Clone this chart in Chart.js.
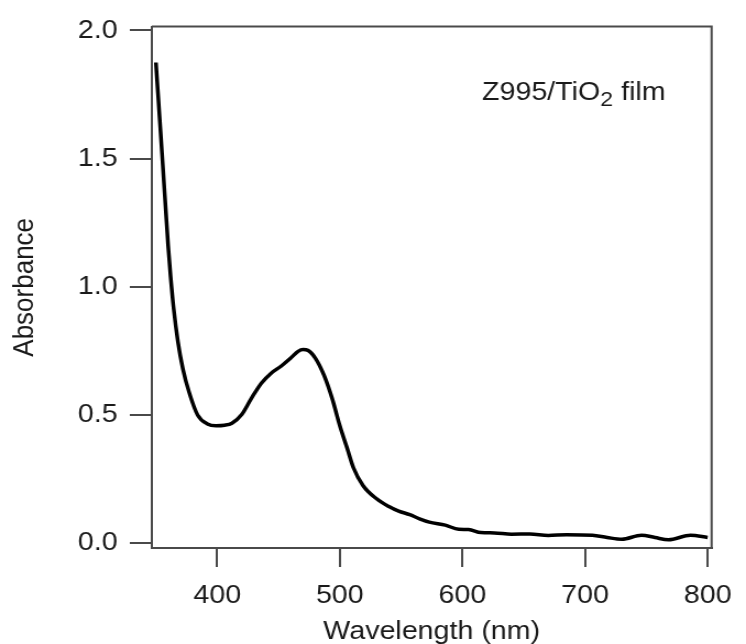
<!DOCTYPE html>
<html>
<head>
<meta charset="utf-8">
<script src="https://cdn.jsdelivr.net/npm/chart.js@4.4.1/dist/chart.umd.min.js"></script>
<style>
  html, body { margin: 0; padding: 0; background: #fff; overflow: hidden; }
  /* the reference is a bit wider than tall in its text, so the canvas is stretched sideways */
  #wrap { width: 678px; height: 644px; transform: scaleX(1.1003); transform-origin: 0 0; }
</style>
</head>
<body>
<div id="wrap"><canvas id="myChart"></canvas></div>
<script>
// spectrum
const wavelength = [350, 355, 360, 362, 364.5, 368, 372, 377, 384, 392, 399, 406, 412, 420, 428, 436, 444, 452, 460, 466, 470, 474, 480, 487, 494, 500, 506, 511, 519, 530, 540, 548, 557, 565, 573, 586, 597, 605, 615, 626, 640, 655, 670, 685, 706, 718, 730, 746, 757, 768, 786, 800];
const absorbance = [1.875, 1.52, 1.16, 1.04, 0.915, 0.785, 0.68, 0.59, 0.50, 0.465, 0.458, 0.460, 0.468, 0.502, 0.566, 0.624, 0.663, 0.690, 0.722, 0.748, 0.755, 0.752, 0.722, 0.656, 0.560, 0.458, 0.370, 0.295, 0.224, 0.173, 0.143, 0.125, 0.111, 0.095, 0.082, 0.070, 0.054, 0.053, 0.041, 0.040, 0.035, 0.036, 0.030, 0.033, 0.031, 0.022, 0.015, 0.031, 0.022, 0.013, 0.031, 0.022];

const xTicks = [400, 500, 600, 700, 800];
const yTicks = [0, 0.5, 1.0, 1.5, 2.0];
const xTitle = "Wavelength (nm)";
const yTitle = "Absorbance";
const sampleName = ["Z995/TiO", "2", " film"];

const axisColor = "#4a4a4a";
const textColor = "#1a1a1a";
const fontFamily = "'Liberation Sans', Arial, Helvetica, sans-serif";

const points = wavelength.map((w, i) => ({ x: w, y: absorbance[i] }));

// top and right sides of the box, plus the sample label
const framePlugin = {
  id: "frame",
  afterDraw(chart) {
    const ctx = chart.ctx;
    const a = chart.chartArea;
    ctx.save();
    ctx.strokeStyle = axisColor;
    ctx.lineWidth = 2;
    ctx.beginPath();
    ctx.moveTo(a.left, a.top);
    ctx.lineTo(a.right, a.top);
    ctx.lineTo(a.right, a.bottom);
    ctx.stroke();

    let x = chart.scales.x.getPixelForValue(616);
    const y = chart.scales.y.getPixelForValue(1.73);
    ctx.fillStyle = textColor;
    ctx.textBaseline = "alphabetic";
    ctx.textAlign = "left";
    ctx.font = "26px " + fontFamily;
    ctx.fillText(sampleName[0], x, y);
    x += ctx.measureText(sampleName[0]).width;
    ctx.font = "21px " + fontFamily;
    ctx.fillText(sampleName[1], x, y + 6);
    x += ctx.measureText(sampleName[1]).width;
    ctx.font = "26px " + fontFamily;
    ctx.fillText(sampleName[2], x, y);
    ctx.restore();
  },
};

const config = {
  type: "line",
  data: {
    datasets: [
      {
        data: points,
        borderColor: "#000",
        borderWidth: 3.5,
        pointRadius: 0,
        fill: false,
        cubicInterpolationMode: "monotone",
      },
    ],
  },
  options: {
    responsive: true,
    maintainAspectRatio: false,
    animation: false,
    layout: { padding: { left: 0, right: 22, top: 22, bottom: 0 } },
    plugins: {
      legend: { display: false },
      tooltip: { enabled: false },
    },
    scales: {
      x: {
        type: "linear",
        min: 346.7,
        max: 803.2,
        afterBuildTicks: (s) => {
          s.ticks = xTicks.map((v) => ({ value: v }));
        },
        afterFit: (s) => {
          s.height = 96;
        },
        grid: { drawOnChartArea: false, drawTicks: true, tickLength: 19, color: axisColor, lineWidth: 2 },
        border: { display: true, color: axisColor, width: 2 },
        ticks: {
          color: textColor,
          font: { family: fontFamily, size: 26 },
          padding: 13,
          maxRotation: 0,
          autoSkip: false,
          callback: (v) => String(v),
        },
        title: {
          display: true,
          text: xTitle,
          color: textColor,
          font: { family: fontFamily, size: 26, lineHeight: 1 },
          padding: { top: 0, bottom: -1 },
        },
      },
      y: {
        type: "linear",
        min: -0.019,
        max: 2.015,
        afterBuildTicks: (s) => {
          s.ticks = yTicks.map((v) => ({ value: v }));
        },
        afterFit: (s) => {
          s.width = 138;
        },
        grid: { drawOnChartArea: false, drawTicks: true, tickLength: 20, color: axisColor, lineWidth: 2 },
        border: { display: true, color: axisColor, width: 2 },
        ticks: {
          color: textColor,
          font: { family: fontFamily, size: 26 },
          padding: 11,
          autoSkip: false,
          callback: (v) => v.toFixed(1),
        },
        title: {
          display: true,
          text: yTitle,
          color: textColor,
          font: { family: fontFamily, size: 26, lineHeight: 1 },
          padding: { top: 10, bottom: 0 },
        },
      },
    },
  },
  plugins: [framePlugin],
};

const chart = new Chart(document.getElementById("myChart"), config);
</script>
</body>
</html>
